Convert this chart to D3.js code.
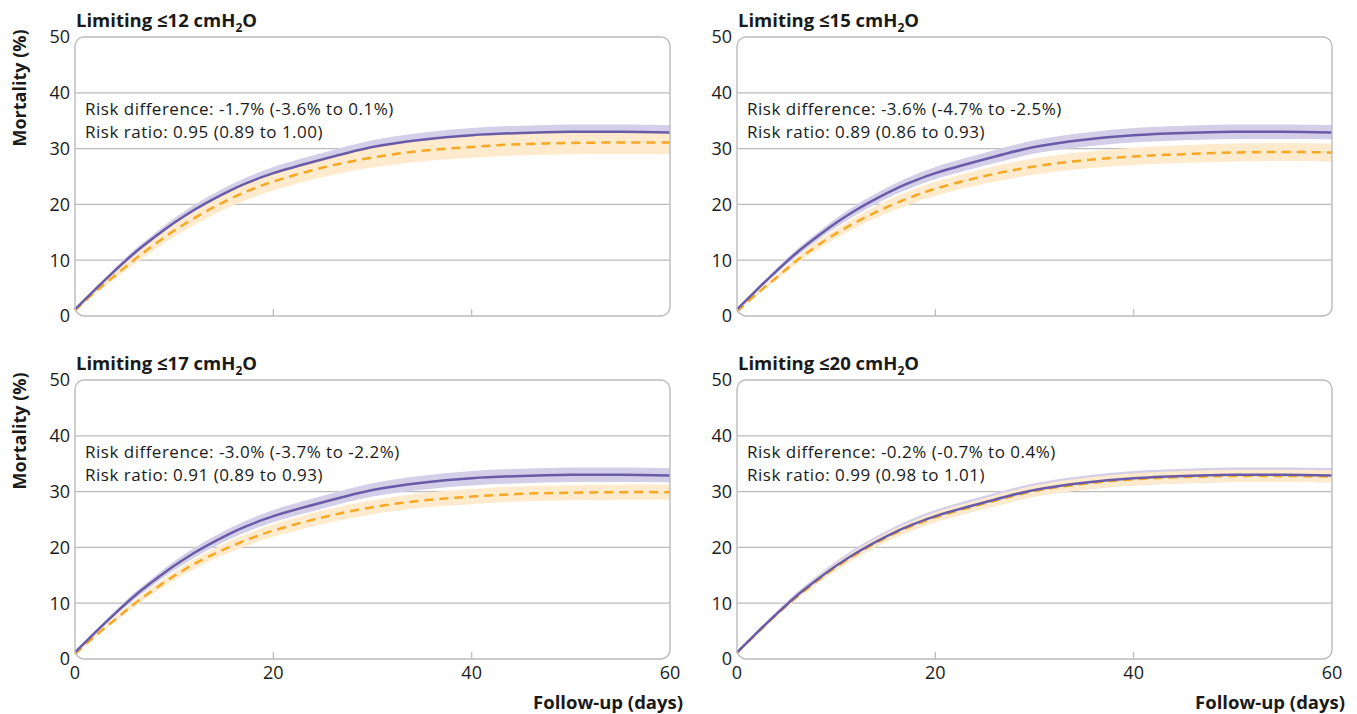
<!DOCTYPE html>
<html><head><meta charset="utf-8">
<script src="https://cdn.jsdelivr.net/npm/d3@7"></script>
<style>
body{margin:0;background:#fff;}
svg text{font-family:"Open Sans","Noto Sans",sans-serif;fill:#1a1a1a;}
</style></head>
<body><svg id="c" width="1357" height="714"></svg>
<script>
const days = [0, 2, 4, 6, 8, 10, 12, 14, 16, 18, 20, 25, 30, 35, 40, 45, 50, 55, 60];

const panelTitles = ["12", "15", "17", "20"];
const riskDiff = ["-1.7% (-3.6% to 0.1%)", "-3.6% (-4.7% to -2.5%)", "-3.0% (-3.7% to -2.2%)", "-0.2% (-0.7% to 0.4%)"];
const riskRatio = ["0.95 (0.89 to 1.00)", "0.89 (0.86 to 0.93)", "0.91 (0.89 to 0.93)", "0.99 (0.98 to 1.01)"];

// reference (purple) curve, identical in all panels
const refMid = [1.2, 4.7, 8.1, 11.3, 14.1, 16.7, 19.0, 21.0, 22.8, 24.3, 25.6, 28.1, 30.3, 31.6, 32.4, 32.8, 33.0, 33.0, 32.9];
const refLo  = [1.05, 4.4, 7.65, 10.7, 13.4, 15.9, 18.1, 20.05, 21.8, 23.25, 24.5, 26.95, 29.1, 30.35, 31.1, 31.5, 31.7, 31.7, 31.6];
const refHi  = [1.35, 5.0, 8.55, 11.9, 14.8, 17.5, 19.9, 21.95, 23.8, 25.35, 26.7, 29.25, 31.5, 32.85, 33.7, 34.1, 34.3, 34.3, 34.2];

// limiting strategy (orange) curves
const lim12Mid = [1.0, 4.3, 7.2, 10.1, 12.8, 15.3, 17.5, 19.5, 21.3, 22.8, 24.1, 26.6, 28.4, 29.6, 30.3, 30.8, 31.0, 31.1, 31.1];
const lim12Lo  = [0.8, 3.9, 6.6, 9.3, 11.85, 14.2, 16.3, 18.2, 19.9, 21.3, 22.5, 24.9, 26.6, 27.7, 28.35, 28.8, 29.0, 29.05, 29.05];
const lim12Hi  = [1.2, 4.7, 7.8, 10.9, 13.75, 16.4, 18.7, 20.8, 22.7, 24.3, 25.7, 28.3, 30.2, 31.5, 32.25, 32.8, 33.0, 33.15, 33.15];

const lim15Mid = [0.8, 4.0, 6.9, 9.9, 12.5, 14.8, 16.8, 18.6, 20.2, 21.6, 22.8, 25.1, 26.8, 27.9, 28.6, 29.0, 29.3, 29.4, 29.3];
const lim15Lo  = [0.65, 3.7, 6.45, 9.3, 11.75, 13.95, 15.85, 17.55, 19.05, 20.4, 21.55, 23.75, 25.35, 26.4, 27.05, 27.4, 27.7, 27.8, 27.7];
const lim15Hi  = [0.95, 4.3, 7.35, 10.5, 13.25, 15.65, 17.75, 19.65, 21.35, 22.8, 24.05, 26.45, 28.25, 29.4, 30.15, 30.6, 30.9, 31.0, 30.9];

const lim17Mid = [0.9, 4.1, 7.0, 9.9, 12.5, 14.9, 17.0, 18.8, 20.4, 21.8, 23.0, 25.4, 27.2, 28.4, 29.1, 29.6, 29.8, 29.9, 29.9];
const lim17Lo  = [0.75, 3.8, 6.6, 9.35, 11.85, 14.15, 16.15, 17.9, 19.4, 20.75, 21.9, 24.2, 25.95, 27.1, 27.75, 28.25, 28.45, 28.55, 28.55];
const lim17Hi  = [1.05, 4.4, 7.4, 10.45, 13.15, 15.65, 17.85, 19.7, 21.4, 22.85, 24.1, 26.6, 28.45, 29.7, 30.45, 30.95, 31.15, 31.25, 31.25];

const lim20Mid = [1.1, 4.6, 8.0, 11.1, 13.9, 16.5, 18.8, 20.8, 22.6, 24.1, 25.4, 27.9, 30.1, 31.4, 32.2, 32.6, 32.8, 32.8, 32.7];
const lim20Lo  = [1.0, 4.35, 7.65, 10.65, 13.35, 15.85, 18.1, 20.05, 21.8, 23.25, 24.5, 26.95, 29.1, 30.35, 31.1, 31.5, 31.7, 31.7, 31.6];
const lim20Hi  = [1.2, 4.85, 8.35, 11.55, 14.45, 17.15, 19.5, 21.55, 23.4, 24.95, 26.3, 28.85, 31.1, 32.45, 33.3, 33.7, 33.9, 33.9, 33.8];

const yTicks = [0, 10, 20, 30, 40, 50];
const xTicks = [0, 20, 40, 60];

const limMid = [lim12Mid, lim15Mid, lim17Mid, lim20Mid];
const limLo = [lim12Lo, lim15Lo, lim17Lo, lim20Lo];
const limHi = [lim12Hi, lim15Hi, lim17Hi, lim20Hi];

const svg = d3.select("#c");
const colX = [[75, 670], [737, 1332]];
const rowY = [[316, 37], [659, 380]];
const yTitleCenter = [88, 431];

const purple = "#6a5ba8", purpleBand = "#d4cfe8";
const orange = "#f7a823", orangeBand = "#feeacc";
const grid = "#bcbcbc";

for (let p = 0; p < 4; p++) {
  const col = p % 2, row = Math.floor(p / 2);
  const x = d3.scaleLinear().domain([0, 60]).range(colX[col]);
  const y = d3.scaleLinear().domain([0, 50]).range(rowY[row]);
  const g = svg.append("g");
  const x0 = x(0), x1 = x(60), yT = y(50), yB = y(0);

  g.selectAll("line.grid").data([10, 20, 30, 40]).join("line")
    .attr("x1", x0).attr("x2", x1).attr("y1", d => y(d)).attr("y2", d => y(d))
    .attr("stroke", grid).attr("stroke-width", 1.3);

  g.selectAll("line.xt").data([20, 40]).join("line")
    .attr("x1", d => x(d)).attr("x2", d => x(d)).attr("y1", yB).attr("y2", yB - 7)
    .attr("stroke", grid).attr("stroke-width", 1.3);

  const data = days.map((d, i) => ({d, rm: refMid[i], rl: refLo[i], rh: refHi[i], lm: limMid[p][i], ll: limLo[p][i], lh: limHi[p][i]}));
  const cv = d3.curveCatmullRom.alpha(0.5);
  const area = (lo, hi) => d3.area().x(d => x(d.d)).y0(d => y(d[lo])).y1(d => y(d[hi])).curve(cv);
  const line = k => d3.line().x(d => x(d.d)).y(d => y(d[k])).curve(cv);

  g.append("path").datum(data).attr("d", area("rl", "rh")).attr("fill", purpleBand);
  g.append("path").datum(data).attr("d", area("ll", "lh")).attr("fill", orangeBand);
  g.append("path").datum(data).attr("d", line("lm")).attr("fill", "none")
    .attr("stroke", orange).attr("stroke-width", 2.5).attr("stroke-dasharray", "9,6");
  g.append("path").datum(data).attr("d", line("rm")).attr("fill", "none")
    .attr("stroke", purple).attr("stroke-width", 2.5);

  g.append("rect").attr("x", x0).attr("y", yT).attr("width", x1 - x0).attr("height", yB - yT)
    .attr("rx", 9).attr("ry", 9).attr("fill", "none").attr("stroke", grid).attr("stroke-width", 1.4);

  g.selectAll("text.yt").data(yTicks).join("text")
    .attr("x", x0 - 5).attr("y", d => y(d)).attr("dy", "0.36em")
    .attr("text-anchor", "end").attr("font-size", 18).text(d => d);

  if (row === 1) {
    g.selectAll("text.xt").data(xTicks).join("text")
      .attr("x", d => x(d)).attr("y", yB + 20).attr("text-anchor", "middle")
      .attr("font-size", 18).text(d => d);
    g.append("text").attr("x", x1 + 13).attr("y", 709).attr("text-anchor", "end")
      .attr("font-size", 18.5).attr("font-weight", "bold").text("Follow-up (days)");
  }

  const t = g.append("text").attr("x", x0 + 1).attr("y", yT - 10).attr("font-size", 18.5).attr("font-weight", "bold");
  t.append("tspan").text("Limiting ≤" + panelTitles[p] + " cmH");
  t.append("tspan").attr("font-size", 12).attr("dy", 5).text("2");
  t.append("tspan").attr("dy", -5).text("O");

  g.append("text").attr("x", x0 + 10).attr("y", y(40) + 22).attr("font-size", 17).attr("letter-spacing", 0.5)
    .text("Risk difference: " + riskDiff[p]);
  g.append("text").attr("x", x0 + 10).attr("y", y(40) + 45.5).attr("font-size", 17).attr("letter-spacing", 0.5)
    .text("Risk ratio: " + riskRatio[p]);

  if (col === 0) {
    g.append("text").attr("transform", `translate(26,${yTitleCenter[row]}) rotate(-90)`)
      .attr("text-anchor", "middle").attr("font-size", 18).attr("font-weight", "bold").text("Mortality (%)");
  }
}
</script></body></html>
